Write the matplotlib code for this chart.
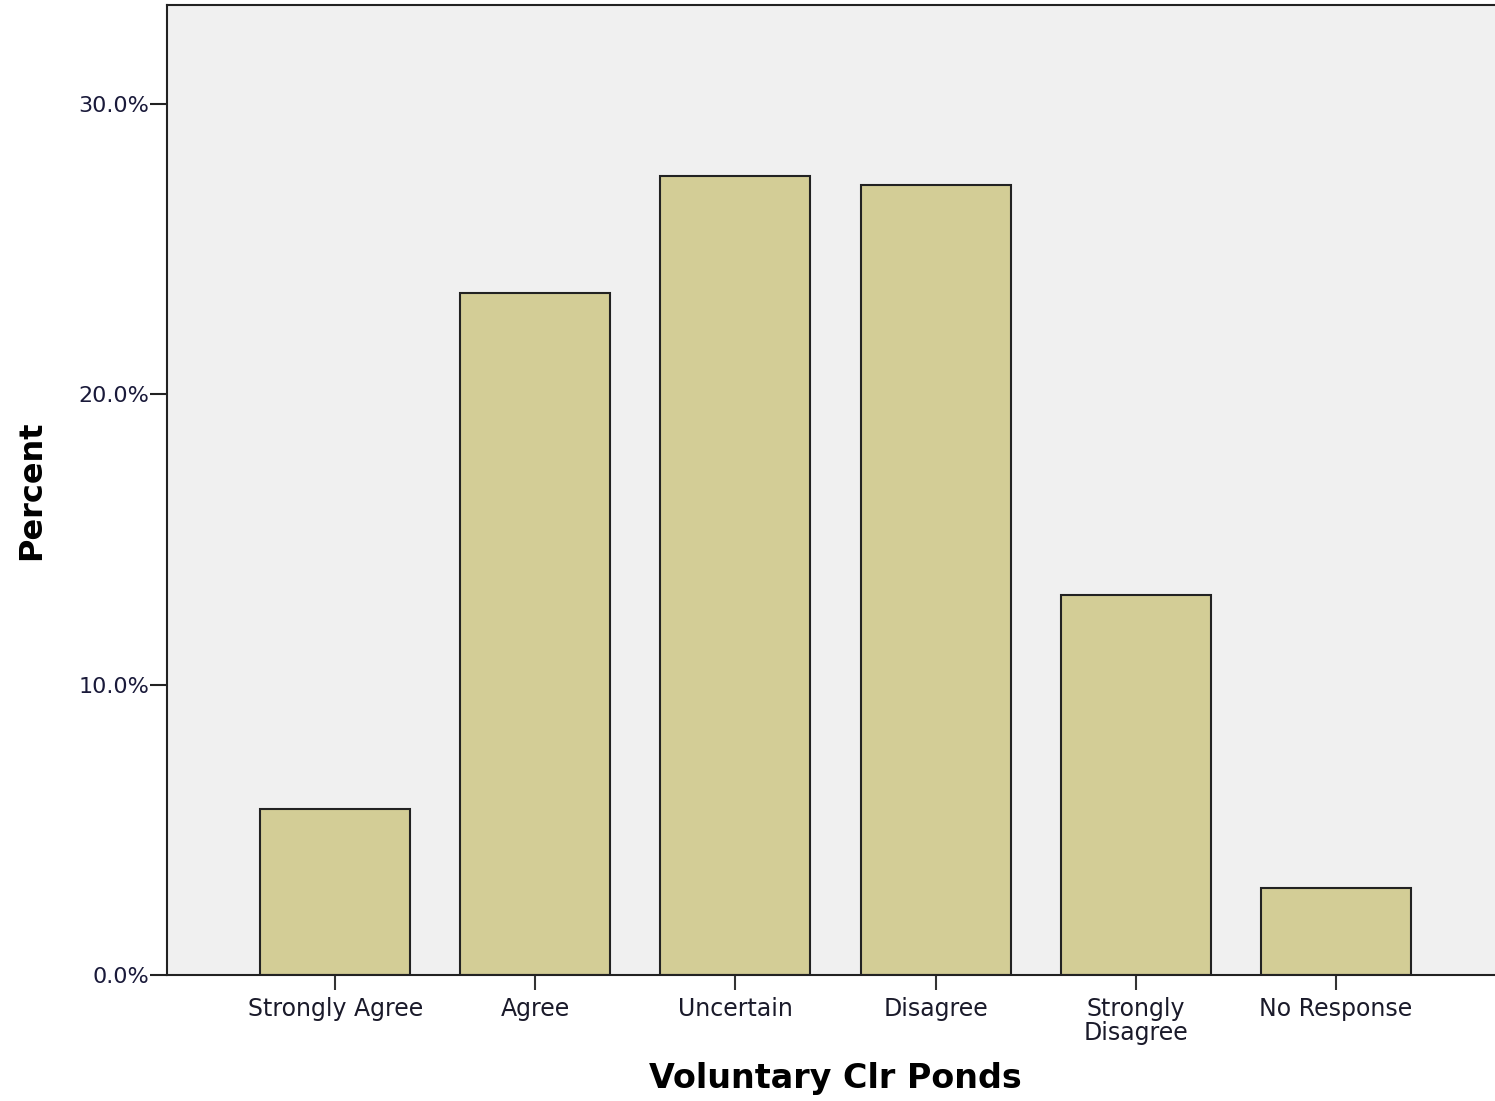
import matplotlib
matplotlib.use("Agg")
import matplotlib.pyplot as plt
from matplotlib.ticker import FuncFormatter

# Data
categories = ["Strongly Agree", "Agree", "Uncertain", "Disagree",
              "Strongly\nDisagree", "No Response"]
percent = [5.7, 23.5, 27.5, 27.2, 13.1, 3.0]
y_ticks = [0, 10, 20, 30]

fig = plt.figure(figsize=(14.95, 11.01), dpi=100)
# Axes box runs a little past the right edge of the picture, as in the original
ax = fig.add_axes([167 / 1495, 1 - 975 / 1101, (1504 - 167) / 1495, (975 - 5) / 1101])
ax.set_facecolor("#F0F0F0")

x = range(len(categories))
ax.bar(x, percent, width=0.75, color="#D3CD96", edgecolor="#222222", linewidth=1.5)

ax.set_xlim(-0.84, len(categories) - 1 + 0.84)
ax.set_ylim(0, 33.4)
ax.set_yticks(y_ticks)
ax.yaxis.set_major_formatter(FuncFormatter(lambda v, p: f"{v:.1f}%"))
ax.set_xticks(list(x))
ax.set_xticklabels(categories, linespacing=0.98)

for s in ax.spines.values():
    s.set_linewidth(1.5)
    s.set_color("#222222")

ax.tick_params(axis="y", direction="out", length=12, width=1.5, pad=1,
               labelsize=16, labelcolor="#1a1a3a", color="#222222")
ax.tick_params(axis="x", direction="out", length=11, width=1.5, pad=5,
               labelsize=17, labelcolor="#1a1a2a", color="#333333")
for lbl in ax.get_xticklabels():
    lbl.set_verticalalignment("top")

ax.set_xlabel("Voluntary Clr Ponds", fontsize=24, fontweight="bold", labelpad=12)
ax.set_ylabel("Percent", fontsize=23, fontweight="bold", labelpad=22)

plt.savefig("out.png", dpi=100)
plt.close()
